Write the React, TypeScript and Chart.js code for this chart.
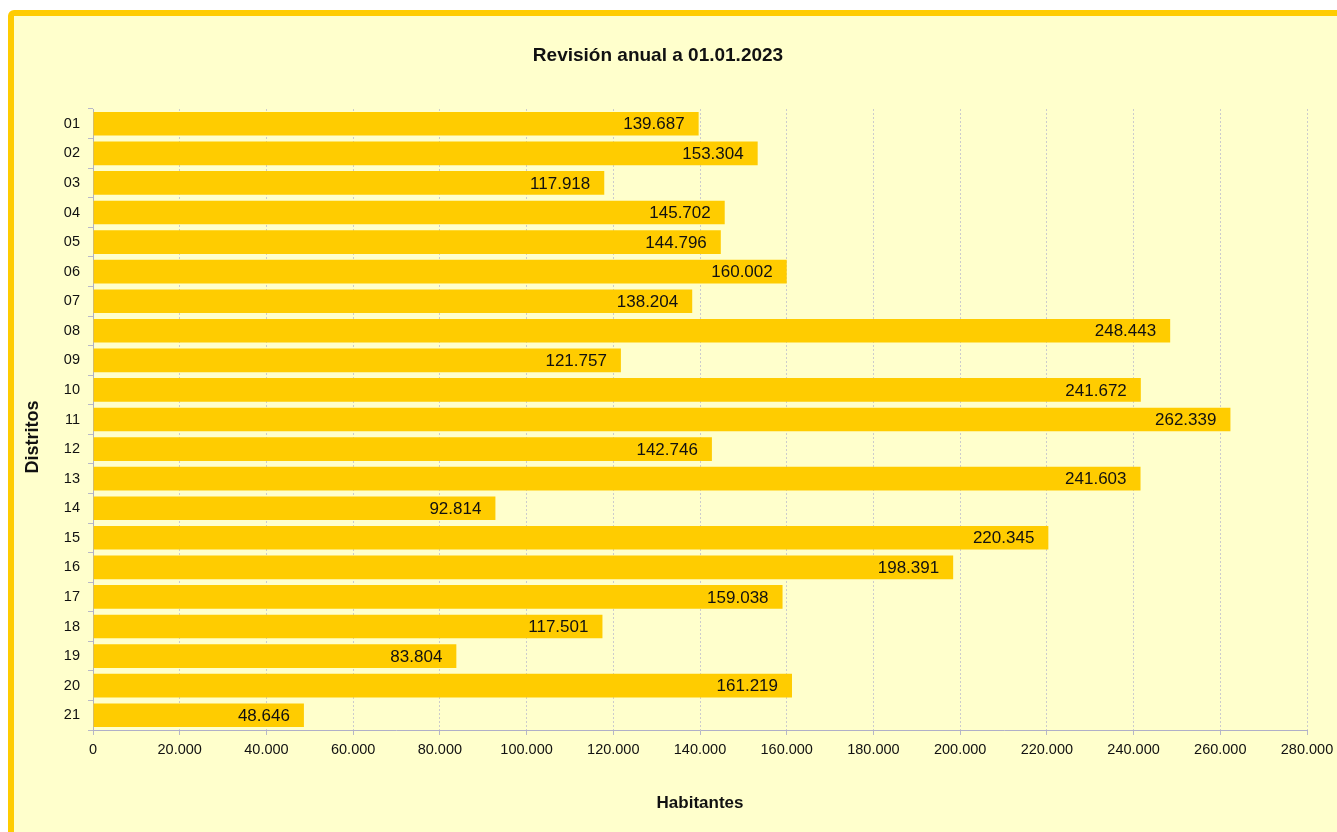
import React, { useEffect, useRef } from "react";
import { Chart, registerables } from "chart.js";

Chart.register(...registerables);

const districts = ["01","02","03","04","05","06","07","08","09","10","11","12","13","14","15","16","17","18","19","20","21"];
const population = [139687,153304,117918,145702,144796,160002,138204,248443,121757,241672,262339,142746,241603,92814,220345,198391,159038,117501,83804,161219,48646];
const xMax = 280000;
const xStep = 20000;
const chartTitle = "Revisión anual a 01.01.2023";
const xTitle = "Habitantes";
const yTitle = "Distritos";

const FONT = '"Liberation Sans", Arial, sans-serif';
const fmt = (v: number) => String(Math.round(v)).replace(/\B(?=(\d{3})+(?!\d))/g, ".");

const textPlugin = {
  id: "textPlugin",
  afterDatasetsDraw(chart: any) {
    const ctx = chart.ctx;
    const meta = chart.getDatasetMeta(0);
    ctx.save();
    ctx.fillStyle = "#111";
    ctx.font = `17px ${FONT}`;
    ctx.textAlign = "right";
    ctx.textBaseline = "middle";
    meta.data.forEach((bar: any, i: number) => {
      ctx.fillText(fmt(population[i]), bar.x - 14, bar.y + 1);
    });
    ctx.restore();
  },
  afterDraw(chart: any) {
    const ctx = chart.ctx;
    const a = chart.chartArea;
    ctx.save();
    ctx.fillStyle = "#111";
    ctx.textAlign = "center";
    ctx.textBaseline = "middle";
    ctx.font = `bold 19px ${FONT}`;
    ctx.fillText(chartTitle, 658, 56);
    ctx.font = `bold 17px ${FONT}`;
    ctx.fillText(xTitle, (a.left + a.right) / 2, 803);
    ctx.translate(33, 437);
    ctx.rotate(-Math.PI / 2);
    ctx.font = `bold 18px ${FONT}`;
    ctx.fillText(yTitle, 0, 0);
    ctx.restore();
  },
};

export default function App() {
  const ref = useRef<HTMLCanvasElement>(null);
  useEffect(() => {
    if (!ref.current) return;
    const chart = new Chart(ref.current, {
      type: "bar",
      data: {
        labels: districts,
        datasets: [
          {
            data: population,
            backgroundColor: "#FFCC00",
            borderWidth: 0,
            categoryPercentage: 1,
            barPercentage: 0.8,
          },
        ],
      },
      options: {
        indexAxis: "y",
        responsive: false,
        animation: false,
        layout: { padding: { left: 0, top: 109, right: 30, bottom: 0 } },
        plugins: { legend: { display: false }, tooltip: { enabled: false }, title: { display: false } },
        scales: {
          x: {
            min: 0,
            max: xMax,
            afterFit: (s: any) => {
              s.height = 102;
              s.paddingLeft = 0;
              s.paddingRight = 0;
            },
            ticks: {
              stepSize: xStep,
              color: "#111",
              font: { family: FONT, size: 14.5 },
              padding: 6,
              maxRotation: 0,
              callback: (v: any) => fmt(Number(v)),
            },
            grid: { color: "#CCCCCC", tickLength: 5, tickColor: "#B8B8C8", tickBorderDash: [] },
            border: { display: true, color: "#B0B0C8", width: 1, dash: [2, 2] },
          },
          y: {
            afterFit: (s: any) => {
              s.width = 93;
              s.paddingTop = 0;
              s.paddingBottom = 0;
            },
            ticks: { color: "#111", font: { family: FONT, size: 14.5 }, padding: 8 },
            grid: { display: true, drawOnChartArea: false, drawTicks: true, tickLength: 5, color: "#B8B8C8", offset: true },
            border: { display: true, color: "#B0B0C8", width: 1 },
          },
        },
      },
      plugins: [textPlugin],
    });
    return () => chart.destroy();
  }, []);

  return (
    <div style={{ position: "fixed", left: 0, top: 0, width: 1337, height: 832, overflow: "hidden", background: "#fff" }}>
      <div
        style={{
          position: "absolute",
          left: 8,
          top: 10,
          width: 1360,
          height: 860,
          boxSizing: "border-box",
          border: "6px solid #FFCC00",
          borderRadius: 6,
          background: "#FFFFCC",
        }}
      />
      <canvas ref={ref} width={1337} height={832} style={{ position: "absolute", left: 0, top: 0, width: 1337, height: 832 }} />
    </div>
  );
}
